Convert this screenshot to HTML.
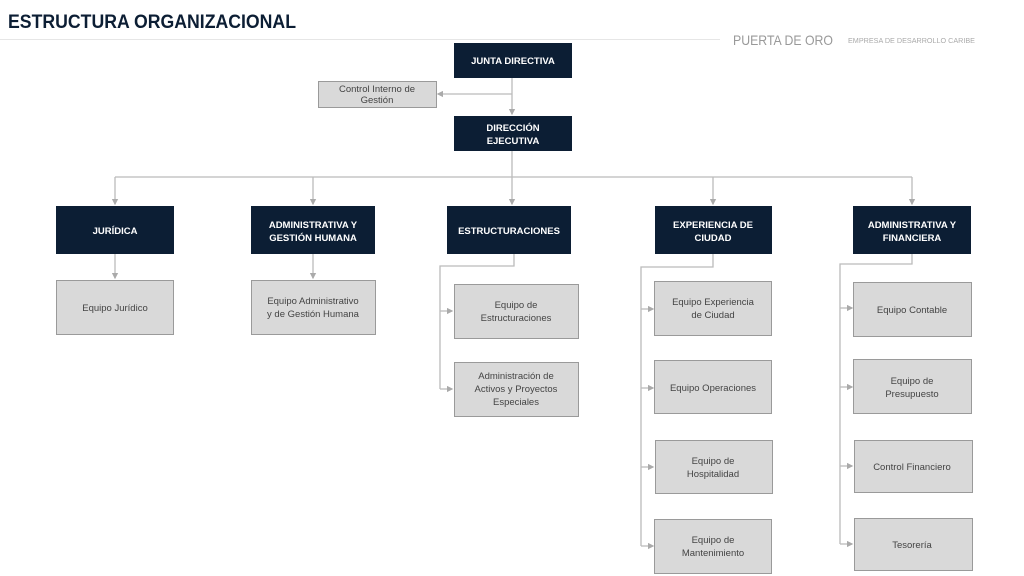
<!DOCTYPE html>
<html><head><meta charset="utf-8"><style>
html,body{margin:0;padding:0;background:#fff;width:1024px;height:576px;overflow:hidden}
svg{display:block}
.d{fill:#0c1e34}
.g{fill:#d9d9d9;stroke:#9a9a9a;stroke-width:1}
.tw{font-family:"Liberation Sans",sans-serif;font-weight:bold;font-size:9.5px;fill:#fff;text-anchor:middle}
.tg{font-family:"Liberation Sans",sans-serif;font-size:9.5px;fill:#444;text-anchor:middle}
.l{stroke:#bbb;stroke-width:1.3;fill:none}
</style></head><body>
<svg width="1024" height="576" viewBox="0 0 1024 576">
<defs><marker id="a" markerWidth="5" markerHeight="5" refX="4" refY="2.5" orient="auto"><path d="M0,0 L5,2.5 L0,5 z" fill="#aaa"/></marker></defs>
<text x="8" y="28" font-family="Liberation Sans,sans-serif" font-weight="bold" font-size="19" fill="#0c1e34" textLength="288" lengthAdjust="spacingAndGlyphs">ESTRUCTURA ORGANIZACIONAL</text>
<line x1="0" y1="39.5" x2="720" y2="39.5" stroke="#e6e6e6" stroke-width="1"/>
<text x="733" y="45" font-family="Liberation Sans,sans-serif" font-size="14" fill="#999" textLength="100" lengthAdjust="spacingAndGlyphs">PUERTA DE ORO</text>
<text x="848" y="43" font-family="Liberation Sans,sans-serif" font-size="7" fill="#aaa" textLength="127" lengthAdjust="spacingAndGlyphs">EMPRESA DE DESARROLLO CARIBE</text>
<!-- connectors -->
<path class="l" d="M512,78 V114" marker-end="url(#a)"/>
<path class="l" d="M512,94 H438" marker-end="url(#a)"/>
<path class="l" d="M512,151 V177 M115,177 H912"/>
<path class="l" d="M115,177 V204" marker-end="url(#a)"/>
<path class="l" d="M313,177 V204" marker-end="url(#a)"/>
<path class="l" d="M512,177 V204" marker-end="url(#a)"/>
<path class="l" d="M713,177 V204" marker-end="url(#a)"/>
<path class="l" d="M912,177 V204" marker-end="url(#a)"/>
<path class="l" d="M115,254 V278" marker-end="url(#a)"/>
<path class="l" d="M313,254 V278" marker-end="url(#a)"/>
<path class="l" d="M514,254 V266 H440 V389"/>
<path class="l" d="M440,311 H452" marker-end="url(#a)"/>
<path class="l" d="M440,389 H452" marker-end="url(#a)"/>
<path class="l" d="M713,254 V267 H641 V546"/>
<path class="l" d="M641,309 H653" marker-end="url(#a)"/>
<path class="l" d="M641,388 H653" marker-end="url(#a)"/>
<path class="l" d="M641,467 H653" marker-end="url(#a)"/>
<path class="l" d="M641,546 H653" marker-end="url(#a)"/>
<path class="l" d="M912,254 V264 H840 V544"/>
<path class="l" d="M840,308 H852" marker-end="url(#a)"/>
<path class="l" d="M840,387 H852" marker-end="url(#a)"/>
<path class="l" d="M840,466 H852" marker-end="url(#a)"/>
<path class="l" d="M840,544 H852" marker-end="url(#a)"/>
<!-- dark boxes -->
<rect class="d" x="454" y="43" width="118" height="35"/><text class="tw" x="513" y="64">JUNTA DIRECTIVA</text>
<rect class="g" x="318.5" y="81.5" width="118" height="26"/><text class="tg" x="377" y="92">Control Interno de</text><text class="tg" x="377" y="103">Gestión</text>
<rect class="d" x="454" y="116" width="118" height="35"/><text class="tw" x="513" y="131">DIRECCIÓN</text><text class="tw" x="513" y="144">EJECUTIVA</text>
<rect class="d" x="56" y="206" width="118" height="48"/><text class="tw" x="115" y="234">JURÍDICA</text>
<rect class="d" x="251" y="206" width="124" height="48"/><text class="tw" x="313" y="228">ADMINISTRATIVA Y</text><text class="tw" x="313" y="241">GESTIÓN HUMANA</text>
<rect class="d" x="447" y="206" width="124" height="48"/><text class="tw" x="509" y="234">ESTRUCTURACIONES</text>
<rect class="d" x="655" y="206" width="117" height="48"/><text class="tw" x="713" y="228">EXPERIENCIA DE</text><text class="tw" x="713" y="241">CIUDAD</text>
<rect class="d" x="853" y="206" width="118" height="48"/><text class="tw" x="912" y="228">ADMINISTRATIVA Y</text><text class="tw" x="912" y="241">FINANCIERA</text>
<!-- gray boxes -->
<rect class="g" x="56.5" y="280.5" width="117" height="54"/><text class="tg" x="115" y="311">Equipo Jurídico</text>
<rect class="g" x="251.5" y="280.5" width="124" height="54"/><text class="tg" x="313" y="304">Equipo Administrativo</text><text class="tg" x="313" y="317">y de Gestión Humana</text>
<rect class="g" x="454.5" y="284.5" width="124" height="54"/><text class="tg" x="516" y="308">Equipo de</text><text class="tg" x="516" y="321">Estructuraciones</text>
<rect class="g" x="454.5" y="362.5" width="124" height="54"/><text class="tg" x="516" y="379">Administración de</text><text class="tg" x="516" y="392">Activos y Proyectos</text><text class="tg" x="516" y="405">Especiales</text>
<rect class="g" x="654.5" y="281.5" width="117" height="54"/><text class="tg" x="713" y="305">Equipo Experiencia</text><text class="tg" x="713" y="318">de Ciudad</text>
<rect class="g" x="654.5" y="360.5" width="117" height="53"/><text class="tg" x="713" y="391">Equipo Operaciones</text>
<rect class="g" x="655.5" y="440.5" width="117" height="53"/><text class="tg" x="713" y="464">Equipo de</text><text class="tg" x="713" y="477">Hospitalidad</text>
<rect class="g" x="654.5" y="519.5" width="117" height="54"/><text class="tg" x="713" y="543">Equipo de</text><text class="tg" x="713" y="556">Mantenimiento</text>
<rect class="g" x="853.5" y="282.5" width="118" height="54"/><text class="tg" x="912" y="313">Equipo Contable</text>
<rect class="g" x="853.5" y="359.5" width="118" height="54"/><text class="tg" x="912" y="384">Equipo de</text><text class="tg" x="912" y="397">Presupuesto</text>
<rect class="g" x="854.5" y="440.5" width="118" height="52"/><text class="tg" x="912" y="470">Control Financiero</text>
<rect class="g" x="854.5" y="518.5" width="118" height="52"/><text class="tg" x="912" y="548">Tesorería</text>
</svg>
</body></html>
